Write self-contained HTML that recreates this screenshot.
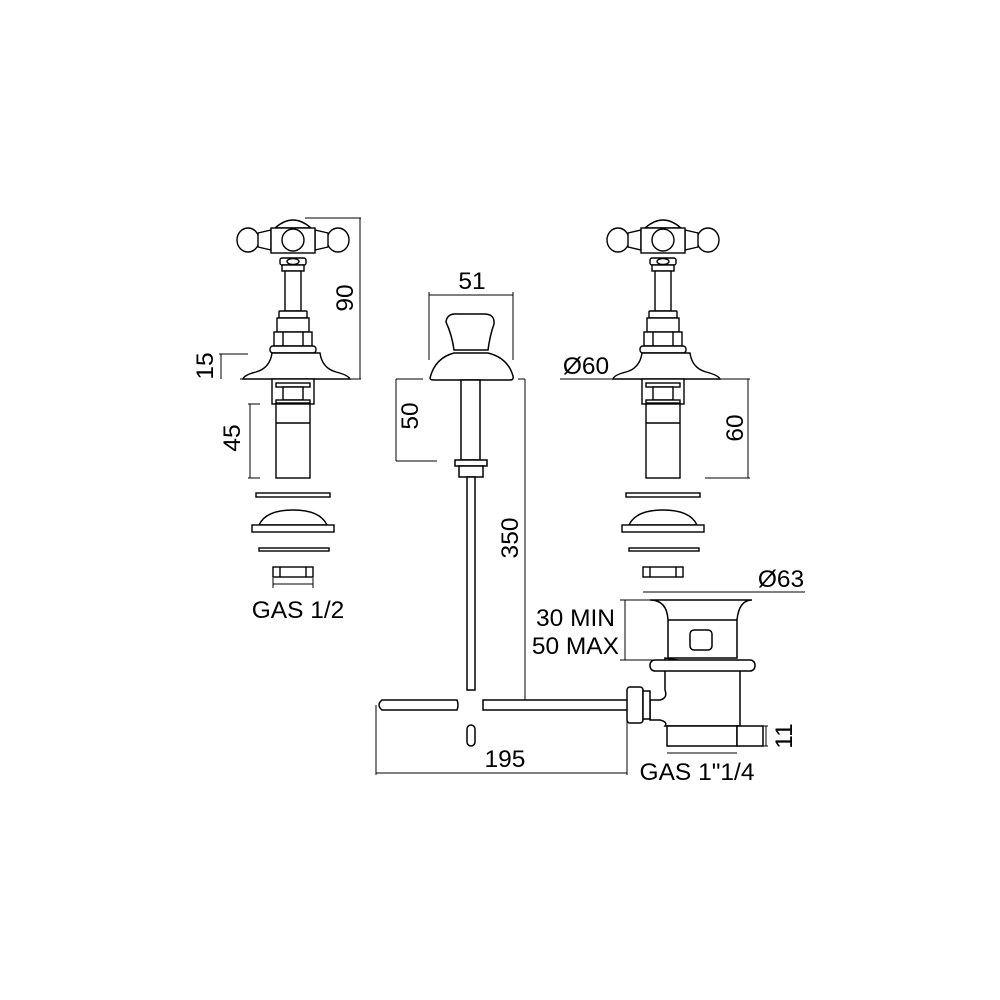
<!DOCTYPE html>
<html><head><meta charset="utf-8"><style>
html,body{margin:0;padding:0;background:#fff;}
svg{display:block;}
text{font-family:"Liberation Sans",sans-serif;font-size:24.5px;fill:#000;}
</style></head><body>
<svg width="1000" height="1000" viewBox="0 0 1000 1000" xmlns="http://www.w3.org/2000/svg">
<defs>
<g id="tap" fill="#fff" stroke="#000" stroke-width="1.4">
  <ellipse cx="248" cy="240" rx="11" ry="12"/>
  <ellipse cx="338" cy="240" rx="11" ry="12"/>
  <path d="M258 233 L271 230 L271 250 L258 247 Z"/>
  <path d="M328 233 L315 230 L315 250 L328 247 Z"/>
  <path d="M275 228 Q293 212 311 228 Z"/>
  <rect x="271" y="228" width="44" height="25"/>
  <circle cx="293" cy="240" r="11"/>
  <rect x="280" y="258" width="26" height="7" rx="2"/>
  <ellipse cx="293" cy="261.5" rx="6" ry="3"/>
  <rect x="282" y="265" width="22" height="6"/>
  <rect x="285" y="271" width="16" height="40"/>
  <rect x="279" y="311" width="28" height="7" rx="1"/>
  <rect x="277" y="318" width="32" height="14"/>
  <rect x="274" y="332" width="38" height="14"/>
  <line x1="283" y1="332" x2="283" y2="346"/><line x1="303" y1="332" x2="303" y2="346"/>
  <rect x="270" y="346" width="46" height="7" rx="3"/>
  <path d="M272 353 Q270 368 256 372 Q244 375 243 379 L350 379 Q348 375 336 372 Q322 368 320 353 Z"/>
  <rect x="272" y="379" width="42" height="25"/>
  <rect x="276" y="383" width="34" height="4"/>
  <rect x="283" y="387" width="20" height="13"/>
  <rect x="276" y="400" width="34" height="3"/>
  <rect x="276" y="404" width="34" height="74"/>
  <line x1="276" y1="423" x2="310" y2="423"/>
  <rect x="256" y="493" width="74" height="4"/>
  <path d="M259 525 Q266 510 293 510 Q320 510 327 525 Z"/>
  <rect x="252" y="525" width="82" height="7"/>
  <rect x="259" y="548" width="70" height="3"/>
  <rect x="273" y="567" width="40" height="10"/>
  <line x1="280" y1="567" x2="280" y2="577"/><line x1="306" y1="567" x2="306" y2="577"/>
</g>
</defs>
<g fill="none" stroke="#000" stroke-width="1">
<use href="#tap"/>
<line x1="305" y1="218" x2="361" y2="218"/>
<line x1="360" y1="218" x2="360" y2="379"/>
<line x1="240" y1="379" x2="361" y2="379"/>
<line x1="219" y1="354" x2="248" y2="354"/>
<line x1="221" y1="354" x2="221" y2="379"/>
<line x1="248" y1="404" x2="260" y2="404"/>
<line x1="250" y1="404" x2="250" y2="478"/>
<line x1="248" y1="478" x2="260" y2="478"/>
<line x1="273" y1="578" x2="273" y2="588"/><line x1="313" y1="578" x2="313" y2="588"/>
<line x1="273" y1="584" x2="313" y2="584"/>
<use href="#tap" x="370"/>
<line x1="560" y1="379" x2="750" y2="379"/>
<line x1="748" y1="379" x2="748" y2="478"/>
<line x1="705" y1="478" x2="750" y2="478"/>
<g fill="#fff" stroke-width="1.5">
<path d="M446 322 Q447 313 458 314 L484 314 Q495 314 494 324 Q490 335 488 350 L454 350 Q452 335 446 322 Z"/>
<path d="M454 353 Q435 358 430 378 Q430 380 434 380 L510 380 Q514 380 513 376 Q508 358 488 353 Z"/>
<rect x="461" y="380" width="19" height="80"/>
<rect x="455" y="460" width="32" height="6"/>
<rect x="459" y="466" width="24" height="11"/>
<rect x="467" y="477" width="8" height="213"/>
<rect x="467" y="725" width="8" height="21" rx="4"/>
<path d="M382 700 L457 700 Q459 705 457 710 L382 710 Q376 705 382 700 Z"/>
<rect x="483" y="700" width="145" height="10"/>
</g>
<line x1="429" y1="295" x2="513" y2="295"/>
<line x1="429" y1="292" x2="429" y2="360"/><line x1="513" y1="292" x2="513" y2="360"/>
<line x1="396" y1="379" x2="423" y2="379"/>
<line x1="396" y1="379" x2="396" y2="461"/>
<line x1="396" y1="461" x2="437" y2="461"/>
<line x1="518" y1="379" x2="525" y2="379"/>
<line x1="525" y1="379" x2="525" y2="700"/>
<line x1="376" y1="705" x2="376" y2="775"/>
<line x1="627" y1="715" x2="627" y2="775"/>
<line x1="376" y1="773" x2="627" y2="773"/>
<g fill="#fff" stroke-width="1.5">
<path d="M665 658 L665 690 Q668 698 660 700 L650 700 L650 720 L660 720 Q668 722 665 726 L740 726 L740 670 Z"/>
<rect x="627" y="687" width="16" height="36" rx="3"/>
<rect x="643" y="691" width="7" height="28"/>
<path d="M650 600 Q667 600 668 620 L668 658 L737 658 L737 620 Q739 600 752 600 Z"/>
<line x1="668" y1="620" x2="737" y2="620"/>
<rect x="690" y="630" width="22" height="20" rx="4"/>
<rect x="650" y="660" width="105" height="11" rx="5"/>
<rect x="667" y="726" width="70" height="20"/>
<rect x="737" y="726" width="26" height="20"/>
</g>
<line x1="643" y1="592" x2="805" y2="592"/>
<line x1="620" y1="600" x2="650" y2="600"/>
<line x1="625" y1="600" x2="625" y2="660"/>
<line x1="620" y1="660" x2="655" y2="660"/>
<line x1="763" y1="726" x2="768" y2="726"/><line x1="763" y1="746" x2="768" y2="746"/>
<line x1="766" y1="726" x2="766" y2="746"/>
<line x1="667" y1="753" x2="737" y2="753"/>
</g>
<text x="298" y="618" text-anchor="middle">GAS 1/2</text>
<text transform="translate(353,298) rotate(-90)" text-anchor="middle">90</text>
<text transform="translate(213,366) rotate(-90)" text-anchor="middle">15</text>
<text transform="translate(240,438) rotate(-90)" text-anchor="middle">45</text>
<text x="472" y="289" text-anchor="middle">51</text>
<text transform="translate(418,416) rotate(-90)" text-anchor="middle">50</text>
<text transform="translate(518,538) rotate(-90)" text-anchor="middle">350</text>
<text x="586" y="374" text-anchor="middle">Ø60</text>
<text transform="translate(743,428) rotate(-90)" text-anchor="middle">60</text>
<text x="781" y="587" text-anchor="middle">Ø63</text>
<text x="615" y="626" text-anchor="end">30 MIN</text>
<text x="619" y="654" text-anchor="end">50 MAX</text>
<text transform="translate(792,736) rotate(-90)" text-anchor="middle">11</text>
<text x="697" y="780" text-anchor="middle">GAS 1"1/4</text>
<text x="505" y="767" text-anchor="middle">195</text>
</svg>
</body></html>
